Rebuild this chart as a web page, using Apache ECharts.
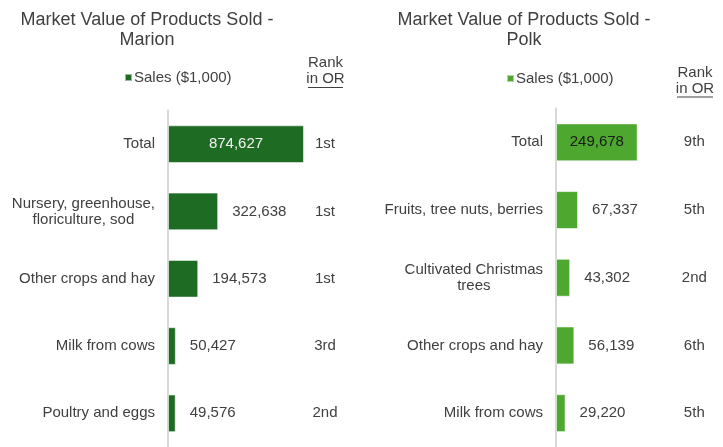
<!DOCTYPE html>
<html>
<head>
<meta charset="utf-8">
<script src="https://cdn.jsdelivr.net/npm/echarts@6/dist/echarts.min.js"></script>
<style>
  html, body { margin: 0; padding: 0; background: #fff; }
  #main { width: 723px; height: 447px; }
</style>
</head>
<body>
<div id="main"></div>
<script>
// data
var marionCategories = ['Total', 'Nursery, greenhouse,\nfloriculture, sod', 'Other crops and hay', 'Milk from cows', 'Poultry and eggs'];
var marionSales = [874627, 322638, 194573, 50427, 49576];
var marionRanks = ['1st', '1st', '1st', '3rd', '2nd'];

var polkCategories = ['Total', 'Fruits, tree nuts, berries', 'Cultivated Christmas\ntrees', 'Other crops and hay', 'Milk from cows'];
var polkSales = [249678, 67337, 43302, 56139, 29220];
var polkRanks = ['9th', '5th', '2nd', '6th', '5th'];

var FONT = '"Liberation Sans", Arial, sans-serif';
var TXT = '#404040';

function fmt(v) {
	return v.toLocaleString('en-US');
}

// multi-line category labels: center each line inside the block
function catLabel(v) {
	if (v.indexOf('\n') < 0) return v;
	return v.split('\n').map(function (l) { return '{c|' + l + '}'; }).join('\n');
}

// first bar (Total) gets its label inside the bar
function barData(values, insideColor) {
	return values.map(function (v, i) {
		if (i === 0) {
			return { value: v, label: { position: 'inside', color: insideColor } };
		}
		return v;
	});
}

function catAxis(gridIndex, cats) {
	return {
		type: 'category',
		gridIndex: gridIndex,
		inverse: true,
		data: cats,
		axisLine: { show: true, lineStyle: { color: '#d9d9d9', width: 2 } },
		axisTick: { show: false },
		axisLabel: {
			margin: 13,
			fontFamily: FONT,
			fontSize: 15,
			color: TXT,
			lineHeight: 16,
			formatter: catLabel,
			rich: { c: { align: 'center', fontFamily: FONT, fontSize: 15, color: TXT, lineHeight: 16 } }
		}
	};
}

function rankAxis(gridIndex, ranks, margin) {
	return {
		type: 'category',
		gridIndex: gridIndex,
		inverse: true,
		position: 'right',
		data: ranks,
		axisLine: { show: false },
		axisTick: { show: false },
		axisLabel: { margin: margin, align: 'center', fontFamily: FONT, fontSize: 15, color: TXT }
	};
}

function valAxis(gridIndex, max) {
	return {
		type: 'value',
		gridIndex: gridIndex,
		min: 0,
		max: max,
		show: false,
		splitLine: { show: false }
	};
}

function barSeries(name, idx, values, color, insideColor) {
	return {
		name: name,
		type: 'bar',
		xAxisIndex: idx,
		yAxisIndex: idx * 2,
		barWidth: '56%',
		itemStyle: { color: color, borderColor: 'rgba(255,255,255,0.55)', borderWidth: 1 },
		label: {
			show: true,
			position: 'right',
			distance: 14,
			fontFamily: FONT,
			fontSize: 15,
			color: TXT,
			formatter: function (p) { return fmt(p.value); }
		},
		data: barData(values, insideColor)
	};
}

function legendAt(name, left, top) {
	return {
		data: [name],
		left: left,
		top: top,
		padding: 0,
		icon: 'rect',
		itemWidth: 7,
		itemHeight: 7,
		itemGap: 4,
		selectedMode: false,
		formatter: function () { return 'Sales ($1,000)'; },
		textStyle: { fontFamily: FONT, fontSize: 15, color: TXT, padding: [0, 0, 0, -3] }
	};
}

function headText(x, y, text, size, lh) {
	return {
		type: 'text',
		x: x,
		y: y,
		style: {
			text: text,
			textAlign: 'center',
			align: 'center',
			textVerticalAlign: 'middle',
			verticalAlign: 'middle',
			font: size + 'px ' + FONT,
			lineHeight: lh,
			fill: TXT
		}
	};
}

function underline(x1, x2, y) {
	return {
		type: 'line',
		shape: { x1: x1, y1: y, x2: x2, y2: y },
		style: { stroke: TXT, lineWidth: 1 }
	};
}

var myChart = echarts.init(document.getElementById('main'));

myChart.setOption({
	animation: false,
	grid: [
		{ left: 168, top: 110.5, width: 155.5, height: 345 },
		{ left: 556, top: 108.5, width: 130.8, height: 343 }
	],
	xAxis: [valAxis(0, 1000000), valAxis(1, 400000)],
	yAxis: [
		catAxis(0, marionCategories),
		rankAxis(0, marionRanks, 1.5),
		catAxis(1, polkCategories),
		rankAxis(1, polkRanks, 7.5)
	],
	legend: [legendAt('Marion', 124, 70), legendAt('Polk', 506, 71)],
	graphic: [
		headText(147, 30, 'Market Value of Products Sold -\nMarion', 18, 20),
		headText(524, 30, 'Market Value of Products Sold -\nPolk', 18, 20),
		headText(325.5, 71, 'Rank\nin OR', 15, 16),
		headText(695, 80.5, 'Rank\nin OR', 15, 16),
		underline(308, 343, 87.5),
		underline(677, 713, 97)
	],
	series: [
		barSeries('Marion', 0, marionSales, '#1e6b24', '#f2f2f2'),
		barSeries('Polk', 1, polkSales, '#4ea72e', '#1a1a1a')
	]
});
</script>
</body>
</html>
